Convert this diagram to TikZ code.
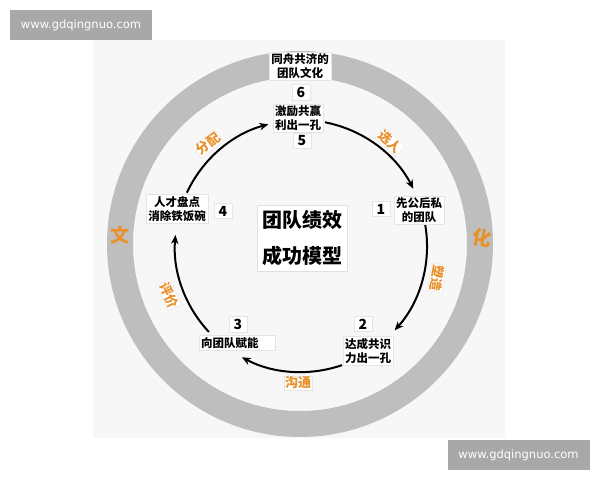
\documentclass[tikz,border=0pt]{standalone}
\usepackage{fontspec}
\setmainfont{DejaVu Sans}
\newfontfamily\cjk{Noto Sans CJK SC}
\usetikzlibrary{arrows.meta,calc}
\definecolor{ringgray}{HTML}{BEBEBE}
\definecolor{wmgray}{HTML}{A8A8A8}
\definecolor{tagorange}{HTML}{E8902A}
\definecolor{paper}{HTML}{F7F7F7}

\begin{document}
\begin{tikzpicture}[x=1pt,y=1pt,
    box/.style={fill=white,draw=black!10,inner sep=2pt,align=center,
      font=\cjk\bfseries\fontsize{11.5}{13.5}\selectfont},
    num/.style={fill=white,draw=black!10,inner sep=2.5pt,minimum width=18pt,
      font=\cjk\bfseries\fontsize{14}{14}\selectfont},
    tag/.style={fill=white,draw=black!10,inner sep=1pt,text=tagorange,
      font=\cjk\bfseries\fontsize{13}{13}\selectfont},
    flow/.style={line width=2pt,-{Stealth[length=9pt,width=7.5pt]}},
    wm/.style={fill=wmgray,text=white,minimum width=142pt,minimum height=30pt,
      font=\fontsize{11.5}{12}\selectfont}]
  \useasboundingbox (0,0) rectangle (600,480);
  \node[wm] (wmtop) at (81,455) {www.gdqingnuo.com};
  \node[wm] (wmbot) at (518.5,25) {www.gdqingnuo.com};
  \fill[paper] (93,42) rectangle (505,440);
  % culture ring
  \draw[ringgray,line width=26pt] (300,236) circle[radius=180pt];
  \node[text=tagorange,font=\cjk\bfseries\fontsize{19}{19}\selectfont] (wen) at (120,245) {文};
  \node[text=tagorange,font=\cjk\bfseries\fontsize{19}{19}\selectfont,rotate=-10] (hua) at (482,242) {化};
  % cycle
  \coordinate (hub) at (301,234);
  \coordinate (s1) at ($(hub)+(79:126)$);
  \coordinate (s2) at ($(hub)+(10:126)$);
  \coordinate (s3) at ($(hub)+(-71:126)$);
  \coordinate (s4) at ($(hub)+(-137:126)$);
  \coordinate (s5) at ($(hub)+(155:126)$);
  \draw[flow] (s1) arc[start angle=79,end angle=27,radius=126pt];
  \draw[flow] (s2) arc[start angle=10,end angle=-42,radius=126pt];
  \draw[flow] (s3) arc[start angle=-71,end angle=-118,radius=126pt];
  \draw[flow] (s4) arc[start angle=-137,end angle=-185,radius=126pt];
  \draw[flow] (s5) arc[start angle=155,end angle=105,radius=126pt];
  \node[tag,rotate=-42] (pick) at (390,338) {选人};
  \node[tag,rotate=-100] (shape) at (437,202) {塑造};
  \node[tag] (talk) at (298,97) {沟通};
  \node[tag,rotate=-65] (rate) at (169,185) {评价};
  \node[tag,rotate=38] (share) at (208,336) {分配};
  % steps
  \node[box] (culture) at (300,414) {同舟共济的\\团队文化};
  \node[num] (n6) at (301,388) {6};
  \node[box] (t5) at (298,362) {激励共赢\\利出一孔};
  \node[num] (n5) at (302,339) {5};
  \node[box] (t1) at (419,270) {先公后私\\的团队};
  \node[num] (n1) at (381,271) {1};
  \node[num] (n2) at (363,156) {2};
  \node[box] (t2) at (368,129) {达成共识\\力出一孔};
  \node[num] (n3) at (238,156) {3};
  \node[box,text width=72pt,align=left] (t3) at (237,137) {向团队赋能};
  \node[box] (t4) at (177,271) {人才盘点\\消除铁饭碗};
  \node[num] (n4) at (223,269) {4};
  \node[fill=white,draw=black!12,inner sep=5pt,align=center,
    font=\cjk\bfseries\fontsize{20}{36}\selectfont] (model) at (302,242) {团队绩效\\成功模型};
\end{tikzpicture}
\end{document}
